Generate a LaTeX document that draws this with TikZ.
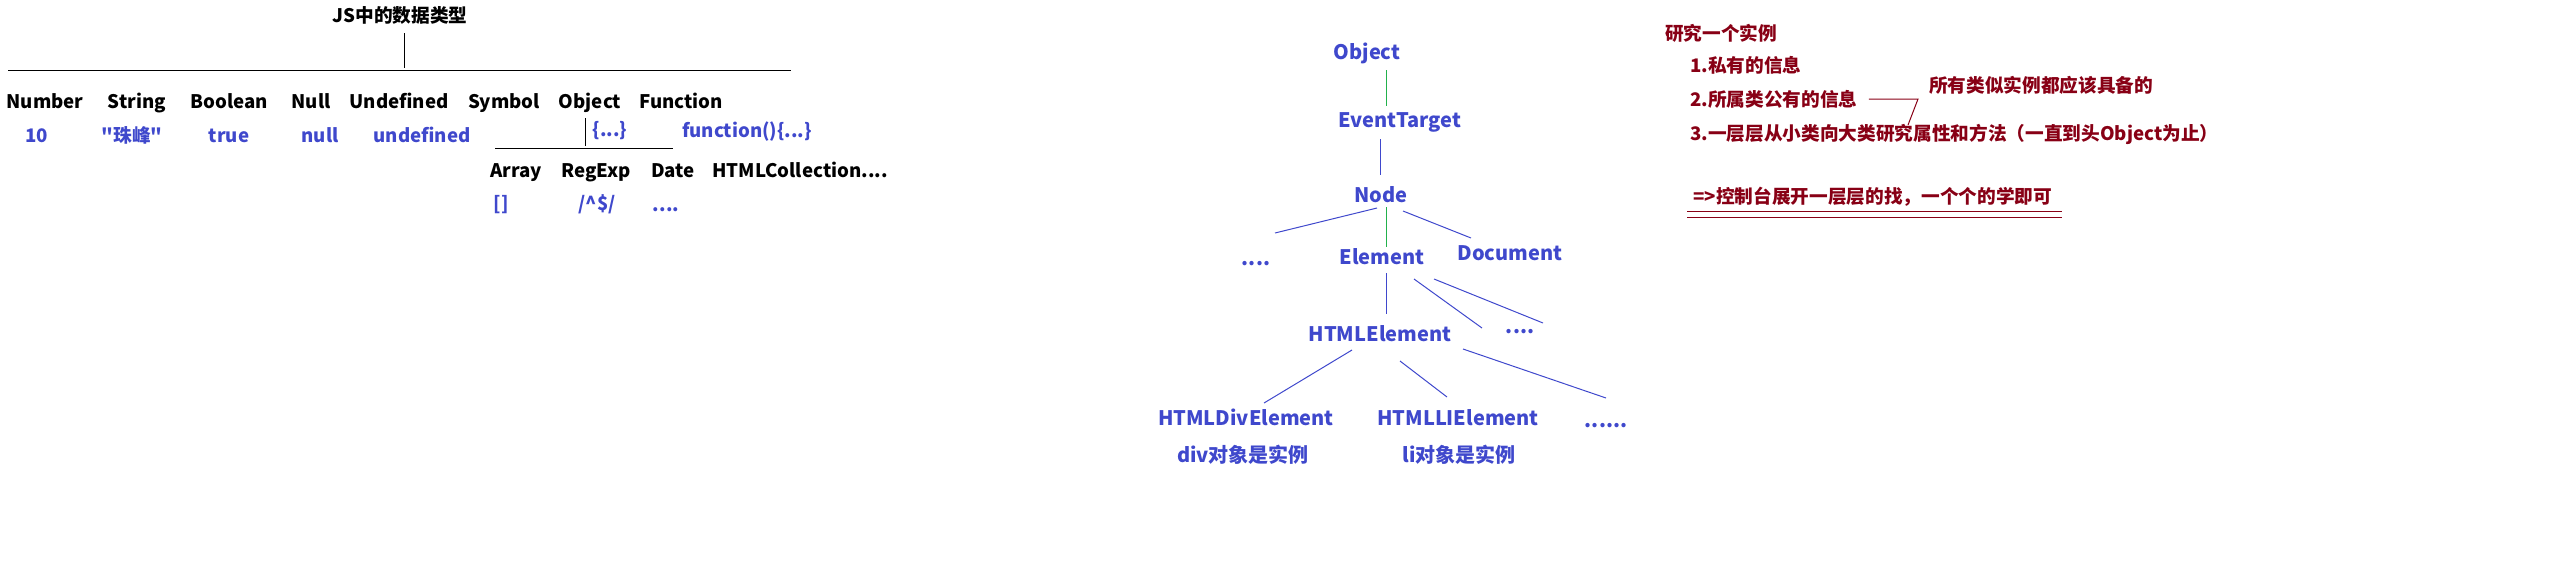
\documentclass[tikz,border=0pt]{standalone}
\usepackage{fontspec}
\setmainfont{Noto Sans CJK SC}[Ligatures=TeXOff]
\usetikzlibrary{calc}
\definecolor{paintblue}{HTML}{3F48CC}
\definecolor{paintgreen}{HTML}{22B14C}
\definecolor{paintred}{HTML}{880015}
\begin{document}
\begin{tikzpicture}[x=0.75pt, y=-0.75pt,
    every node/.style={anchor=base, inner sep=0pt},
    kind/.style={font=\fontsize{14}{16}\selectfont\bfseries, text=black},
    val/.style={font=\fontsize{14}{16}\selectfont\bfseries, text=paintblue},
    cls/.style={font=\fontsize{15}{18}\selectfont\bfseries, text=paintblue},
    note/.style={anchor=base west, font=\fontsize{14}{16}\selectfont\bfseries, text=paintred},
    wire/.style={black, line width=0.75pt},
    bline/.style={paintblue, line width=0.75pt},
    gline/.style={paintgreen, line width=0.75pt},
    rline/.style={paintred, line width=0.75pt}]
    \useasboundingbox (0,0) rectangle (2576,576);

    % Datentypen links
    \node[kind] (title) at (400,22) {JS中的数据类型};
    \coordinate (bar)  at (404,70);
    \coordinate (barL) at (8,70);
    \coordinate (barR) at (791,70);
    \draw[wire] ($(title.base)+(4,11)$) -- ($(bar)+(0,-2)$);
    \draw[wire] (barL) -- (barR);

    \node[kind] (number)    at ( 45,108) {Number};
    \node[kind] (string)    at (137,108) {String};
    \node[kind] (boolean)   at (229,108) {Boolean};
    \node[kind] (null)      at (311,108) {Null};
    \node[kind] (undefined) at (399,108) {Undefined};
    \node[kind] (symbol)    at (504,108) {Symbol};
    \node[kind] (object)    at (590,108) {Object};
    \node[kind] (function)  at (681,108) {Function};

    \node[val] (vnumber)    at ( 37,142) {10};
    \node[val] (vstring)    at (132,142) {"珠峰"};
    \node[val] (vboolean)   at (229,142) {true};
    \node[val] (vnull)      at (320,142) {null};
    \node[val] (vundefined) at (422,142) {undefined};
    \node[val] (vobject)    at (610,136) {\{...\}};
    \node[val] (vfunction)  at (747,137) {function()\{...\}};

    \coordinate (sub)  at (585,148);
    \coordinate (subL) at (495,148);
    \coordinate (subR) at (673,148);
    \draw[wire] ($(object.base)+(-5,10)$) -- ($(sub)+(0,-2)$);
    \draw[wire] (subL) -- (subR);

    \node[kind] (array)  at (516,177) {Array};
    \node[kind] (regexp) at (596,177) {RegExp};
    \node[kind] (date)   at (673,177) {Date};
    \node[kind] (coll)   at (800,177) {HTMLCollection....};

    \node[val] (varray)  at (501,210) {[]};
    \node[val] (vregexp) at (597,210) {/\textasciicircum\$/};
    \node[val] (vdate)   at (666,211) {....};

    % Prototypkette
    \node[cls] (obj)  at (1367, 59) {Object};
    \node[cls] (evt)  at (1400,127) {EventTarget};
    \node[cls] (nd)   at (1381,202) {Node};
    \node[cls] (dl)   at (1256,265) {....};
    \node[cls] (el)   at (1382,264) {Element};
    \node[cls] (doc)  at (1510,260) {Document};
    \node[cls] (he)   at (1380,341) {HTMLElement};
    \node[cls] (dr)   at (1520,333) {....};
    \node[cls] (hd)   at (1246,425) {HTMLDivElement};
    \node[cls] (hl)   at (1458,425) {HTMLLIElement};
    \node[cls] (dd)   at (1606,427) {......};
    \node[cls] (divi) at (1243,462) {div对象是实例};
    \node[cls] (lii)  at (1459,462) {li对象是实例};

    \draw[gline] ($(obj.base)+(19,11)$) -- ($(evt.base)+(-14,-21)$);
    \draw[bline] ($(evt.base)+(-20,12)$) -- ($(nd.base)+(-1,-27)$);
    \draw[bline] ($(nd.base)+(-4,6)$)    -- ($(dl.base)+(19,-32)$);
    \draw[gline] ($(nd.base)+(5,5)$)     -- ($(el.base)+(4,-17)$);
    \draw[bline] ($(nd.base)+(22,9)$)    -- ($(doc.base)+(-39,-22)$);
    \draw[bline] ($(el.base)+(4,9)$)     -- ($(he.base)+(6,-27)$);
    \draw[bline] ($(el.base)+(32,15)$)   -- ($(dr.base)+(-38,-5)$);
    \draw[bline] ($(el.base)+(52,15)$)   -- ($(dr.base)+(23,-10)$);
    \draw[bline] ($(he.base)+(-28,9)$)   -- ($(hd.base)+(18,-22)$);
    \draw[bline] ($(he.base)+(20,20)$)   -- ($(hl.base)+(-11,-28)$);
    \draw[bline] ($(he.base)+(83,8)$)    -- ($(dd.base)+(0,-29)$);

    % Notizen rechts
    \node[note] (head)   at (1665, 40) {研究一个实例};
    \node[note] (p1)     at (1690, 72) {1.私有的信息};
    \node[note] (p2)     at (1690,106) {2.所属类公有的信息};
    \node[note] (p3)     at (1690,140) {3.一层层从小类向大类研究属性和方法（一直到头Object为止）};
    \node[note] (common) at (1929, 92) {所有类似实例都应该具备的};
    \node[note] (tip)    at (1693,203) {=>控制台展开一层层的找，一个个的学即可};
    \coordinate (kink) at (1918,99);
    \coordinate (hook) at (1908,125);
    \draw[rline] ($(p2.base east)+(11,-7)$) -- (kink) -- (hook);
    \draw[rline] ($(tip.base west)+(-6,8)$)  -- ($(tip.base east)+(10,8)$);
    \draw[rline] ($(tip.base west)+(-6,14)$) -- ($(tip.base east)+(10,14)$);
\end{tikzpicture}
\end{document}
